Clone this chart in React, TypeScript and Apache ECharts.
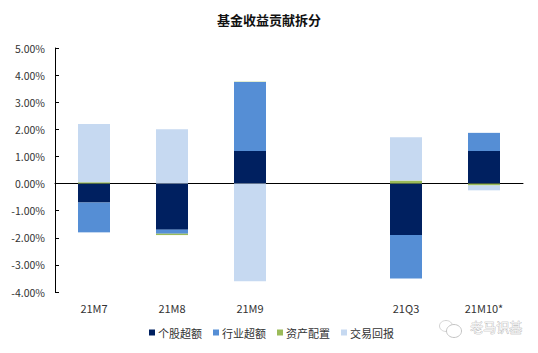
import React, { useEffect, useRef } from "react";
import * as echarts from "echarts";

const categories = ["21M7", "21M8", "21M9", "", "21Q3", "21M10*"];
const stockExcess = [-0.7, -1.7, 1.2, null, -1.9, 1.2];
const industryExcess = [-1.1, -0.15, 2.55, null, -1.6, 0.67];
const assetAllocation = [0.05, -0.05, 0.01, null, 0.11, -0.07];
const tradingReturn = [2.15, 2.0, -3.6, null, 1.6, -0.18];
const legendNames = ["个股超额", "行业超额", "资产配置", "交易回报"];
const colors = ["#002060", "#558ED5", "#9BBB59", "#C6D9F1"];
const font = '"Noto Sans CJK SC", "Noto Sans", sans-serif';

export default function App() {
  const ref = useRef<HTMLDivElement>(null);
  useEffect(() => {
    const chart = echarts.init(ref.current!, undefined, { renderer: "svg" });
    const values = [stockExcess, industryExcess, assetAllocation, tradingReturn];
    chart.setOption({
      animation: false,
      backgroundColor: "#fff",
      title: {
        text: "基金收益贡献拆分",
        left: 264,
        top: 8,
        textAlign: "center",
        textStyle: { fontFamily: font, fontSize: 13, fontWeight: "bold", color: "#111" },
      },
      grid: { left: 55, right: 15, top: 48, bottom: 61 },
      legend: {
        left: 149,
        top: 327,
        padding: 0,
        itemWidth: 6,
        itemHeight: 6,
        itemGap: 11,
        icon: "rect",
        data: legendNames,
        textStyle: { fontFamily: font, fontSize: 11, color: "#333", padding: [0, 0, 0, -2] },
      },
      xAxis: {
        type: "category",
        data: categories,
        axisLine: { onZero: true, lineStyle: { color: "#000", width: 1 } },
        axisTick: { show: false },
        axisLabel: {
          interval: 0,
          fontFamily: font,
          fontSize: 11,
          color: "#333",
          margin: 10,
        },
      },
      yAxis: {
        type: "value",
        min: -4,
        max: 5,
        interval: 1,
        splitLine: { show: false },
        axisLine: { show: true, lineStyle: { color: "#000", width: 1 } },
        axisTick: { show: true, length: 4, inside: true, lineStyle: { color: "#000" } },
        axisLabel: {
          fontFamily: font,
          fontSize: 10.5,
          color: "#333",
          margin: 10,
          formatter: (v: number) => `${v.toFixed(2)}%`,
        },
      },
      series: legendNames.map((name, i) => ({
        name,
        type: "bar",
        stack: "total",
        barWidth: 32,
        data: values[i],
        itemStyle: { color: colors[i] },
        emphasis: { disabled: true },
      })),
      graphic: [
        {
          type: "text",
          left: 470,
          top: 320,
          silent: true,
          style: {
            text: "老马识基",
            font: `13px ${font}`,
            fill: "#f4f4f4",
            stroke: "#a8a8a8",
            lineWidth: 0.6,
          },
        },
        { type: "ellipse", shape: { cx: 446, cy: 326, rx: 6.5, ry: 5.5 }, style: { fill: "#fff", stroke: "#d4d4d4", lineWidth: 1 } },
        { type: "ellipse", shape: { cx: 454, cy: 331, rx: 7.5, ry: 6.5 }, style: { fill: "#fff", stroke: "#c4c4c4", lineWidth: 1 } },
      ],
    });
    return () => chart.dispose();
  }, []);
  return <div ref={ref} style={{ width: 538, height: 353, position: "absolute", left: 0, top: 0 }} />;
}
